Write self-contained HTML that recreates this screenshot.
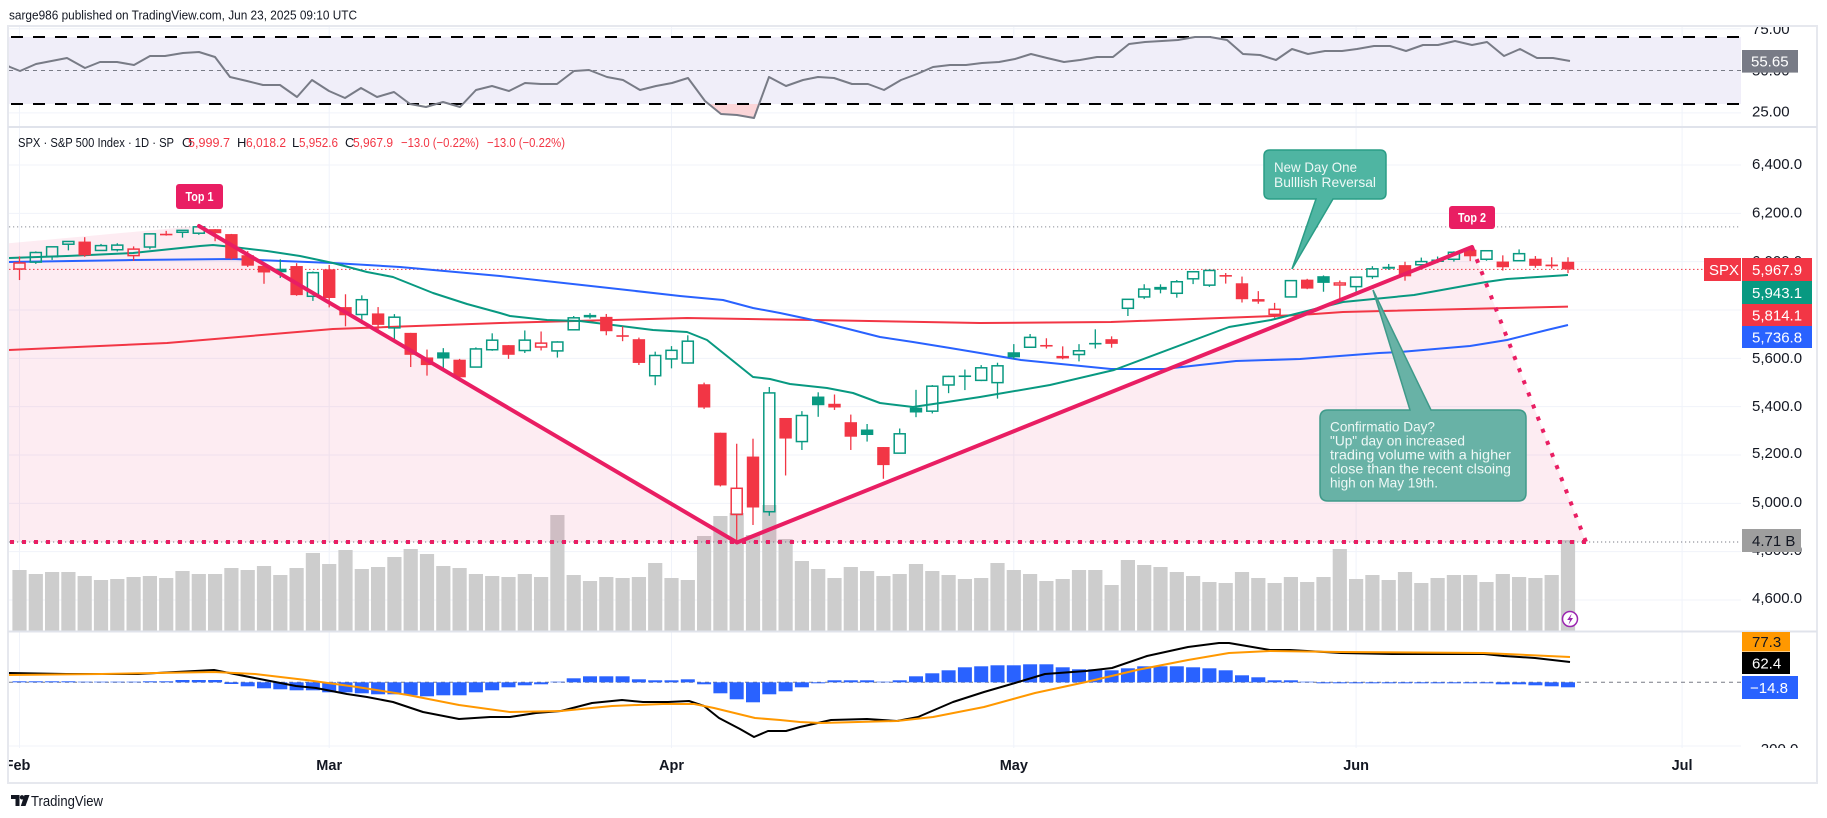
<!DOCTYPE html>
<html><head><meta charset="utf-8">
<style>
html,body{margin:0;padding:0;background:#fff;width:1827px;height:818px;overflow:hidden}
svg{display:block}
text{font-family:"Liberation Sans",sans-serif}
</style></head><body>
<svg id="c" width="1827" height="818" viewBox="0 0 1827 818" xmlns="http://www.w3.org/2000/svg">
<defs>
<clipPath id="cpMain"><rect x="9" y="128" width="1732" height="503"/></clipPath>
<clipPath id="cpRsi"><rect x="9" y="27" width="1732" height="100"/></clipPath>
<clipPath id="cpMacd"><rect x="9" y="632" width="1732" height="116"/></clipPath>
<clipPath id="cpAxis"><rect x="1741" y="27" width="76" height="721"/></clipPath>
<clipPath id="cpTime"><rect x="9" y="748" width="1808" height="34"/></clipPath>
</defs>
<rect x="0" y="0" width="1827" height="818" fill="#fff"/>
<g id="grid"></g>
<g id="rsi" clip-path="url(#cpRsi)"></g>
<g id="main" clip-path="url(#cpMain)"></g>
<g id="macd" clip-path="url(#cpMacd)"></g>

<!-- frame & separators -->
<rect x="8" y="26" width="1809" height="757" fill="none" stroke="#e6e8ee" stroke-width="2"/>
<line x1="8" y1="127" x2="1817" y2="127" stroke="#e0e3eb" stroke-width="2"/>
<line x1="8" y1="631.5" x2="1817" y2="631.5" stroke="#e0e3eb" stroke-width="2"/>

<!-- header -->
<text x="9" y="19.5" font-size="12.5" fill="#131722" textLength="348" lengthAdjust="spacingAndGlyphs">sarge986 published on TradingView.com, Jun 23, 2025 09:10 UTC</text>

<!-- legend -->
<g font-size="13" fill="#131722">
<text x="18" y="147" textLength="156" lengthAdjust="spacingAndGlyphs">SPX · S&amp;P 500 Index · 1D · SP</text>
<text x="182" y="147">O</text>
<text x="188" y="147" fill="#f23645" textLength="42" lengthAdjust="spacingAndGlyphs">5,999.7</text>
<text x="237" y="147">H</text>
<text x="246" y="147" fill="#f23645" textLength="40" lengthAdjust="spacingAndGlyphs">6,018.2</text>
<text x="292" y="147">L</text>
<text x="299" y="147" fill="#f23645" textLength="39" lengthAdjust="spacingAndGlyphs">5,952.6</text>
<text x="345" y="147">C</text>
<text x="353" y="147" fill="#f23645" textLength="40" lengthAdjust="spacingAndGlyphs">5,967.9</text>
<text x="401" y="147" fill="#f23645" textLength="78" lengthAdjust="spacingAndGlyphs">−13.0 (−0.22%)</text>
<text x="487" y="147" fill="#f23645" textLength="78" lengthAdjust="spacingAndGlyphs">−13.0 (−0.22%)</text>
</g>

<!-- annotations -->
<rect x="176" y="184" width="47" height="25" rx="3" fill="#e91e63"/>
<text x="199.5" y="201" font-size="12.5" font-weight="bold" fill="#fff" text-anchor="middle" textLength="28" lengthAdjust="spacingAndGlyphs">Top 1</text>
<rect x="1449" y="206" width="46" height="23" rx="3" fill="#e91e63"/>
<text x="1472" y="222" font-size="12.5" font-weight="bold" fill="#fff" text-anchor="middle" textLength="28" lengthAdjust="spacingAndGlyphs">Top 2</text>

<path d="M1270,150 H1380 Q1386,150 1386,156 V193 Q1386,199 1380,199 H1333 L1292,269 L1316,199 H1270 Q1264,199 1264,193 V156 Q1264,150 1270,150 Z" fill="#4fb5a2" stroke="#2a9d86" stroke-width="1.5"/>
<text x="1274" y="172" font-size="14" fill="#eef8f6" textLength="83" lengthAdjust="spacingAndGlyphs">New Day One</text>
<text x="1274" y="187" font-size="14" fill="#eef8f6" textLength="102" lengthAdjust="spacingAndGlyphs">Bulllish Reversal</text>

<path d="M1328,410 H1410 L1373,290 L1431,410 H1518 Q1526,410 1526,418 V493 Q1526,501 1518,501 H1328 Q1320,501 1320,493 V418 Q1320,410 1328,410 Z" fill="#68b2a6" stroke="#3f9a8a" stroke-width="1.5"/>
<g font-size="14" fill="#eef8f6">
<text x="1330" y="431.5" textLength="105" lengthAdjust="spacingAndGlyphs">Confirmatio Day?</text>
<text x="1330" y="445.5" textLength="135" lengthAdjust="spacingAndGlyphs">"Up" day on increased</text>
<text x="1330" y="459.5" textLength="181" lengthAdjust="spacingAndGlyphs">trading volume with a higher</text>
<text x="1330" y="473.5" textLength="181" lengthAdjust="spacingAndGlyphs">close than the recent clsoing</text>
<text x="1330" y="487.5" textLength="108" lengthAdjust="spacingAndGlyphs">high on May 19th.</text>
</g>

<!-- lightning icon -->
<circle cx="1570" cy="619" r="7.5" fill="#fff" stroke="#9c27b0" stroke-width="1.5"/>
<path d="M1571.8,613.5 L1567.2,620 H1570 L1568.5,624.8 L1573,618 H1570.2 Z" fill="#9c27b0"/>

<!-- price axis -->
<g clip-path="url(#cpAxis)" font-size="15" fill="#131722">
<text x="1752" y="34">75.00</text>
<text x="1752" y="75.5">50.00</text>
<text x="1752" y="116.5">25.00</text>
<text x="1752" y="169">6,400.0</text>
<text x="1752" y="217.5">6,200.0</text>
<text x="1752" y="266">6,000.0</text>
<text x="1752" y="314.5">5,800.0</text>
<text x="1752" y="363">5,600.0</text>
<text x="1752" y="411">5,400.0</text>
<text x="1752" y="458">5,200.0</text>
<text x="1752" y="507">5,000.0</text>
<text x="1752" y="555">4,800.0</text>
<text x="1752" y="603">4,600.0</text>
<text x="1752" y="754">−200.0</text>
</g>
<rect x="1742" y="50" width="56" height="22.6" fill="#787b86"/>
<text x="1751" y="66.5" font-size="15" fill="#fff">55.65</text>

<rect x="1704" y="258" width="37" height="23" fill="#f23645"/>
<text x="1709" y="275" font-size="15" fill="#fff">SPX</text>
<rect x="1742" y="258" width="70" height="23" fill="#f23645"/>
<text x="1752" y="275" font-size="15" fill="#fff">5,967.9</text>
<rect x="1742" y="281" width="70" height="23" fill="#089981"/>
<text x="1752" y="298" font-size="15" fill="#fff">5,943.1</text>
<rect x="1742" y="304" width="70" height="22" fill="#f23645"/>
<text x="1752" y="320.5" font-size="15" fill="#fff">5,814.1</text>
<rect x="1742" y="326" width="70" height="22" fill="#2962ff"/>
<text x="1752" y="342.5" font-size="15" fill="#fff">5,736.8</text>

<rect x="1742" y="529" width="59" height="23" fill="#9e9e9e"/>
<text x="1752" y="546" font-size="15" fill="#131722">4.71 B</text>

<rect x="1742" y="632" width="48" height="19.5" fill="#ff9800"/>
<text x="1752" y="647" font-size="15" fill="#131722">77.3</text>
<rect x="1742" y="652" width="48" height="22" fill="#000"/>
<text x="1752" y="668.5" font-size="15" fill="#fff">62.4</text>
<rect x="1742" y="676" width="56" height="23" fill="#2962ff"/>
<text x="1750" y="693" font-size="15" fill="#fff">−14.8</text>

<!-- time axis -->
<g clip-path="url(#cpTime)" font-size="14.5" font-weight="bold" fill="#131722" text-anchor="middle">
<text x="17.5" y="770">Feb</text>
<text x="329.2" y="770">Mar</text>
<text x="671.5" y="770">Apr</text>
<text x="1013.8" y="770">May</text>
<text x="1356.1" y="770">Jun</text>
<text x="1682.1" y="770">Jul</text>
</g>

<!-- TradingView logo -->
<path d="M11,795 H19.5 V806 H15.5 V799 H11 Z" fill="#131722"/>
<circle cx="22" cy="797.3" r="2.2" fill="#131722"/>
<path d="M24.5,795 H29.5 L25.5,806 H20.8 Z" fill="#131722"/>
<text x="31" y="806" font-size="15" fill="#131722" textLength="72" lengthAdjust="spacingAndGlyphs">TradingView</text>

<script>
(function(){
const NS="http://www.w3.org/2000/svg";
function el(p,t,a){const e=document.createElementNS(NS,t);for(const k in a)e.setAttribute(k,a[k]);p.appendChild(e);return e;}
const X=n=>19.5+16.3*n;
const Y=p=>165+(6400-p)*0.241667;
const G="#089981",R="#f23645";
const pts=a=>a.map(p=>p[0]+","+p[1]).join(" ");

/* grid */
const g=document.getElementById("grid");
[19.5,329.2,671.5,1013.8,1356.1,1682.1].forEach(x=>el(g,"line",{x1:x,x2:x,y1:27,y2:748,stroke:"#f0f3fa","stroke-width":1}));
for(let p=6400;p>=4600;p-=200){const y=Y(p);el(g,"line",{x1:9,x2:1741,y1:y,y2:y,stroke:"#f0f3fa","stroke-width":1});}
[28.8,112.9,746].forEach(y=>el(g,"line",{x1:9,x2:1741,y1:y,y2:y,stroke:"#f0f3fa","stroke-width":1}));

/* RSI */
const r=document.getElementById("rsi");
el(r,"rect",{x:9,y:37,width:1732,height:67,fill:"#f0eef9"});
el(r,"polygon",{points:"708.7,104 721,114 737,115 754,118 759,104",fill:"#fbd5d8"});
el(r,"line",{x1:9,x2:1741,y1:70.5,y2:70.5,stroke:"#787b86","stroke-width":1,"stroke-dasharray":"4 4"});
[37,104].forEach(y=>el(r,"line",{x1:11,x2:1741,y1:y,y2:y,stroke:"#000","stroke-width":2,"stroke-dasharray":"12 10"}));
const rsiP=[[8,66],[10,67],[20,71],[36,64],[67,58],[85,68],[100,62],[117,62],[134,65],[150,56],[165,56],[183,53],[199,52],[215,57],[230,77],[247,81],[263,85],[280,85],[297,97],[312,80],[329,91],[345,98],[361,88],[377,97],[394,92],[410,104],[426,107],[443,102],[460,107],[476,90],[492,86],[509,91],[525,83],[541,84],[557,84],[574,71],[589,70],[607,77],[623,80],[640,90],[656,86],[672,83],[688,78],[705,101],[721,114],[737,115],[754,118],[769,77],[786,86],[803,80],[818,77],[834,78],[852,84],[868,84],[884,90],[901,80],[917,74],[933,67],[950,65],[966,65],[982,63],[999,62],[1015,59],[1031,54],[1047,58],[1064,62],[1080,60],[1097,57],[1113,57],[1129,44],[1145,42],[1162,41],[1178,40],[1195,37],[1210,37],[1227,40],[1243,54],[1260,55],[1276,60],[1292,49],[1308,54],[1325,51],[1342,51],[1357,49],[1374,46],[1390,46],[1406,51],[1423,45],[1438,45],[1455,41],[1472,45],[1487,42],[1504,56],[1520,49],[1537,58],[1553,58],[1570,61]];
el(r,"polyline",{points:pts(rsiP),fill:"none",stroke:"#787b86","stroke-width":2,"stroke-linejoin":"round"});

/* MAIN */
const m=document.getElementById("main");
const vt=[570,574,572,572,576,580,579,577,576,578,571,574,574,568,570,566,575,568,553,564,550,569,567,557,549,554,566,568,574,576,577,574,577,515,575,581,577,578,577,563,578,580,536,516,513,535,505,539,561,569,578,567,571,576,574,564,571,575,579,578,563,570,574,581,579,570,570,585,560,565,567,572,576,582,583,572,578,583,577,582,577,549,579,575,580,572,583,578,575,575,582,574,577,578,575,540];
vt.forEach((t,n)=>el(m,"rect",{x:X(n)-7.1,y:t,width:14.2,height:631-t,fill:"#cdcdcd"}));
el(m,"polygon",{points:"8,243.3 199,226 737,542 8,542",fill:"rgba(233,30,99,0.085)"});
el(m,"polygon",{points:"737,542 1472,247 1586,542",fill:"rgba(233,30,99,0.085)"});
el(m,"line",{x1:9,x2:1741,y1:226.9,y2:226.9,stroke:"#8a8d96","stroke-width":1,"stroke-dasharray":"1.2 2.8"});
el(m,"line",{x1:9,x2:1704,y1:269.4,y2:269.4,stroke:R,"stroke-width":1,"stroke-dasharray":"1.5 2.5"});
el(m,"line",{x1:9,x2:1741,y1:542,y2:542,stroke:"#787b86","stroke-width":1,"stroke-dasharray":"1.2 2.8"});

const red=[[8,350],[167,343],[333,329],[500,323],[613,320],[687,318],[813,320],[980,323],[1111,322],[1300,315],[1343,312],[1507,308],[1568,306.6]];
const blue=[[8,262],[133,260],[233,259],[333,263],[400,267],[500,276],[600,287],[680,296],[723,300],[753,308],[780,313],[813,320],[880,337],[913,342],[950,348],[980,353],[1021,360],[1111,369],[1164,369],[1236,361],[1300,359],[1379,353],[1400,352],[1470,346],[1507,340],[1547,330],[1568,325]];
const green=[[8,258],[67,256],[133,253],[200,246],[213,245],[233,247],[267,251],[300,256],[333,263],[367,272],[393,277],[433,293],[467,304],[500,313],[510,316],[547,320],[580,321],[613,325],[653,330],[687,332],[707,340],[753,377],[770,379],[790,384],[827,388],[853,393],[880,403],[913,407],[947,402],[980,397],[1050,385],[1114,370],[1229,327],[1271,320],[1343,302],[1414,295],[1486,282],[1507,279],[1568,275]];
el(m,"polyline",{points:pts(red),fill:"none",stroke:R,"stroke-width":2,"stroke-linejoin":"round"});
el(m,"polyline",{points:pts(blue),fill:"none",stroke:"#2962ff","stroke-width":2,"stroke-linejoin":"round"});
el(m,"polyline",{points:pts(green),fill:"none",stroke:G,"stroke-width":2,"stroke-linejoin":"round"});

const D=[[5969.65,6022.13,5923.93,5994.57],[5998.14,6042.48,5990.87,6037.88],[6020.45,6062.86,6007.06,6061.48],[6072.22,6084.03,6046.83,6083.57],[6083.13,6101.28,6019.96,6025.99],[6046.40,6073.38,6044.84,6066.44],[6049.32,6076.28,6042.34,6068.50],[6025.08,6063.18,6003.00,6051.97],[6060.59,6116.91,6051.00,6115.07],[6115.52,6127.47,6107.62,6114.63],[6121.60,6129.63,6099.51,6129.58],[6117.76,6147.43,6111.15,6144.15],[6134.50,6134.50,6084.59,6117.52],[6114.10,6114.82,6008.56,6013.13],[6026.69,6043.65,5977.83,5983.25],[5982.73,5992.65,5908.49,5955.25],[5970.87,6009.82,5932.69,5956.06],[5981.88,5993.69,5858.78,5861.57],[5856.74,5959.40,5837.66,5954.50],[5968.33,5986.09,5810.91,5849.72],[5811.98,5865.08,5732.59,5778.15],[5781.38,5860.59,5742.35,5842.63],[5785.87,5812.08,5711.64,5738.52],[5726.01,5783.01,5666.29,5770.20],[5705.37,5705.37,5564.02,5614.56],[5603.65,5636.30,5528.41,5572.07],[5624.84,5642.19,5546.09,5599.30],[5594.45,5597.78,5504.65,5521.52],[5563.85,5645.27,5563.85,5638.94],[5635.60,5703.52,5631.12,5675.12],[5654.53,5654.53,5597.76,5614.66],[5632.37,5715.33,5622.20,5675.29],[5646.92,5711.15,5632.61,5662.89],[5630.73,5670.84,5603.10,5667.56],[5718.08,5775.10,5718.08,5767.57],[5775.14,5786.95,5764.26,5776.65],[5771.66,5783.62,5695.47,5712.20],[5695.64,5732.28,5670.94,5693.31],[5679.23,5685.89,5572.42,5580.94],[5527.91,5627.56,5488.73,5611.85],[5597.53,5650.57,5558.52,5633.07],[5580.76,5695.31,5578.02,5670.97],[5492.74,5499.53,5390.83,5396.52],[5292.14,5292.14,5069.90,5074.08],[4953.79,5246.59,4835.04,5062.25],[5193.57,5267.47,4910.42,4982.77],[4965.28,5481.34,4948.43,5456.90],[5353.15,5353.15,5115.27,5268.05],[5255.56,5381.46,5220.77,5363.36],[5441.96,5459.46,5358.02,5405.97],[5411.99,5450.41,5386.44,5396.63],[5335.75,5367.24,5220.79,5275.70],[5305.45,5328.31,5255.58,5282.70],[5232.94,5232.94,5101.63,5158.20],[5207.67,5309.60,5207.67,5287.76],[5395.93,5469.69,5356.51,5375.86],[5381.38,5489.40,5371.96,5484.77],[5489.73,5528.11,5455.86,5525.21],[5529.22,5553.66,5468.64,5528.75],[5508.87,5571.95,5505.70,5560.83],[5499.44,5581.84,5433.24,5569.06],[5625.14,5658.91,5597.35,5604.14],[5645.87,5700.70,5645.01,5686.67],[5655.32,5683.07,5640.71,5650.38],[5605.88,5649.58,5596.16,5606.91],[5615.76,5658.72,5587.48,5631.28],[5663.95,5720.10,5640.58,5663.94],[5679.26,5691.00,5644.09,5659.91],[5807.13,5844.19,5775.23,5844.19],[5854.05,5906.63,5845.24,5886.55],[5887.05,5906.24,5868.92,5892.58],[5869.16,5924.05,5850.91,5916.93],[5929.09,5958.62,5907.15,5958.38],[5902.88,5968.61,5895.69,5963.60],[5944.66,5953.06,5909.26,5940.46],[5910.56,5938.37,5830.91,5844.61],[5841.26,5878.08,5825.82,5842.01],[5781.89,5829.51,5767.41,5802.82],[5854.07,5922.09,5854.07,5921.54],[5925.59,5929.00,5886.08,5888.55],[5939.92,5943.13,5875.58,5912.17],[5903.67,5922.14,5843.66,5911.69],[5896.68,5937.40,5861.43,5935.94],[5938.56,5981.35,5929.00,5970.37],[5978.94,5990.48,5966.11,5970.81],[5985.67,5999.70,5921.20,5939.30],[5987.06,6016.87,5978.63,6000.36],[6004.60,6021.31,5994.18,6005.88],[6009.91,6043.01,6000.26,6038.81],[6049.38,6059.40,6002.32,6022.24],[6009.90,6045.43,6003.88,6045.26],[6000.56,6026.16,5963.21,5976.97],[6004.00,6050.83,6004.00,6033.11],[6012.15,6023.25,5974.80,5982.72],[5987.93,6018.25,5971.89,5980.87],[5999.67,6018.20,5952.56,5967.84]];
let prev=6040.53;
D.forEach((d,n)=>{
  const o=d[0],h=d[1],l=d[2],c=d[3],x=X(n);
  const col=c>=prev?G:R; prev=c;
  const top=Y(Math.max(o,c)),bot=Y(Math.min(o,c));
  if(c>o){
    el(m,"line",{x1:x,x2:x,y1:Y(h),y2:top,stroke:col,"stroke-width":1.3});
    el(m,"line",{x1:x,x2:x,y1:bot,y2:Y(l),stroke:col,"stroke-width":1.3});
    el(m,"rect",{x:x-5.5,y:top,width:11,height:Math.max(bot-top,1),fill:"none",stroke:col,"stroke-width":1.5});
  }else{
    el(m,"line",{x1:x,x2:x,y1:Y(h),y2:Y(l),stroke:col,"stroke-width":1.3});
    el(m,"rect",{x:x-6.2,y:top,width:12.4,height:Math.max(bot-top,1.6),fill:col});
  }
});
el(m,"polyline",{points:"199,226 737,542.5 1472,247",fill:"none",stroke:"#e91e63","stroke-width":4,"stroke-linejoin":"round","stroke-linecap":"round"});
el(m,"line",{x1:1472,y1:247,x2:1586,y2:542,stroke:"#e91e63","stroke-width":4,"stroke-dasharray":"4 9"});
el(m,"line",{x1:10,y1:542,x2:1586,y2:542,stroke:"#e91e63","stroke-width":4,"stroke-dasharray":"4 8"});

/* MACD */
const q=document.getElementById("macd");
const Z=682.3;
el(q,"line",{x1:9,x2:1741,y1:Z,y2:Z,stroke:"#787b86","stroke-width":1,"stroke-dasharray":"4 4"});
const hist=[1,1,1,1,0.6,0.6,0.6,0.6,1,1,2.3,2.3,2.3,-1.7,-4,-6,-7,-8,-8,-10,-10,-11,-12,-12,-13,-14,-13,-13,-10,-8,-5,-3,-2,0.6,4,6,6,6,3,2,2,3,-2,-11,-17,-20,-12,-9,-5,-1,2,2,2,0.6,2,6,9,12,15,16,17,17,18,18,15,13,13,12,14,16,16,16,15,14,12,7,5,2,2,0.6,-1,-1,-1,-1,-1,-1,-1,-1,-1,-1,-1,-2,-2,-3,-4,-5];
hist.forEach((v,n)=>{const y=v>0?Z-v:Z;el(q,"rect",{x:X(n)-7,y:y,width:14,height:Math.abs(v),fill:"#2962ff"});});
const sig=[[9,675],[102,674],[214,672],[255,674],[306,680],[357,687],[408,695],[459,705],[510,712],[561,711],[612,706],[663,704],[694,704],[714,708],[755,718],[780,720],[800,722],[821,723],[897,721],[933,717],[984,707],[1035,693],[1086,682],[1137,670],[1188,660],[1229,653],[1270,651],[1341,652],[1484,653],[1570,657]];
const mac=[[9,673],[66,674],[138,674],[214,670],[270,681],[296,686],[316,688],[347,694],[367,697],[393,702],[423,712],[459,719],[490,717],[510,717],[536,713],[561,711],[592,703],[622,700],[643,702],[668,702],[689,701],[704,706],[719,718],[740,729],[754,737],[768,731],[786,731],[800,727],[831,720],[867,719],[897,721],[918,717],[953,702],[984,692],[1015,683],[1045,674],[1086,671],[1112,668],[1147,656],[1188,647],[1219,643],[1229,643],[1270,650],[1290,650],[1341,653],[1392,654],[1484,654],[1504,656],[1535,658],[1570,662]];
el(q,"polyline",{points:pts(mac),fill:"none",stroke:"#000","stroke-width":2,"stroke-linejoin":"round"});
el(q,"polyline",{points:pts(sig),fill:"none",stroke:"#ff9800","stroke-width":2,"stroke-linejoin":"round"});
})();
</script>
</svg>
</body></html>
